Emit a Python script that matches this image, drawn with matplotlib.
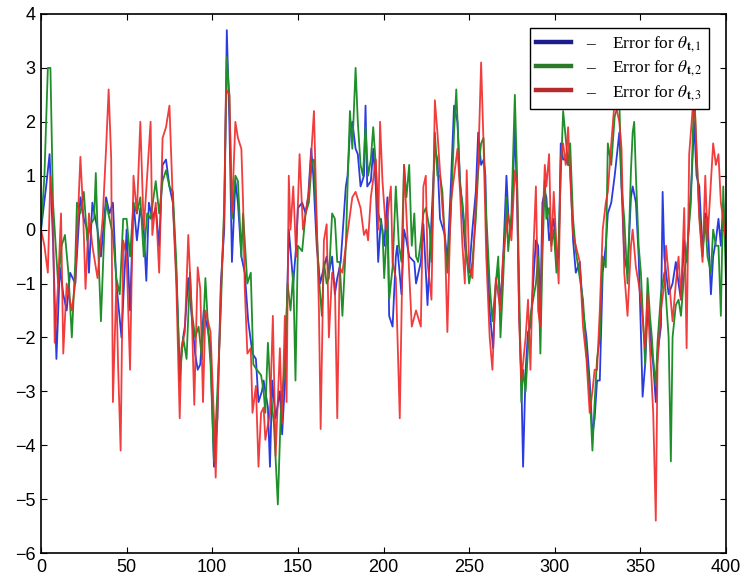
import matplotlib
matplotlib.use('Agg')
import matplotlib.pyplot as plt
from matplotlib.lines import Line2D

# Error traces (x = time step, y = error)
blue_x = [0, 3, 5, 7, 9, 11, 13, 15, 17, 20, 23, 25, 27, 28, 30, 33, 35, 38, 40, 42, 44, 47, 50,
          52, 54, 56, 58, 60, 61.5, 63, 65, 67, 69, 71, 73, 75, 77, 79, 81, 83, 84, 86, 88, 90,
          91.5, 93, 95, 97.7, 99, 101, 103, 105, 107, 108.5, 110, 111.5, 113.5, 115, 117, 119,
          121, 123.5, 125.5, 127, 129, 130, 132.5, 133.7, 135, 137, 139.5, 140.8, 142.5, 144.7,
          146, 147.3, 149, 150, 152.5, 154.5, 156, 157.8, 159, 161, 163, 165.2, 166.8, 168.1,
          170, 171.6, 173, 175, 178, 179, 180.4, 181.8, 183.7, 185, 186.6, 188.6, 189.5, 190.5,
          192.6, 194, 195.5, 196.9, 198.5, 200.4, 202.3, 203.3, 205.3, 207.2, 208, 210.5, 212,
          213.4, 215, 218, 219, 221.8, 223.3, 225.7, 227, 230, 231.5, 233, 235.8, 237.3, 239.3,
          241.2, 243.2, 244.7, 246.1, 247.5, 250, 251.9, 253.9, 255.3, 257, 258.5, 259.5, 260,
          262, 264, 265.6, 267, 268.3, 269.8, 271.8, 273, 274.7, 276.7, 278, 279.2, 280.5, 281.5,
          283, 284.4, 285.8, 287.4, 289, 290.3, 291.6, 292.8, 294.2, 295.1, 296.7, 298, 299.4,
          301, 302.3, 303.5, 304.9, 306.4, 307.8, 309, 310.7, 312.3, 314.6, 316.5, 318.5, 320.4,
          322, 323.3, 324.7, 326.3, 328, 329.8, 331, 333, 335, 337.7, 339, 340.6, 342.5, 344.5,
          345.5, 347.4, 349, 350.3, 351.3, 352.8, 354.2, 355.6, 356.7, 357.5, 359, 360, 362, 363,
          364, 365, 366.5, 368.8, 370.7, 372.3, 373.7, 375.6, 377, 378.5, 380, 381.4, 382.8,
          384.4, 386.3, 387.9, 389.2, 391.2, 392.5, 394.1, 395.6, 397, 398.4, 400]
blue_y = [0, 0.8, 1.4, -0.2, -2.4, -0.7, -1.2, -1.5, -0.8, -1.0, 0.6, 0.2, 0.0, -0.8, 0.5, 0.0, -0.5,
          0.6, 0.3, 0.5, -1.0, -2.0, 0.0,
          -1.5, 0.5, -0.2, 0.4, 0.0, -0.95, 0.5, 0.2, 0.4, -0.3, 1.2, 1.3, 0.8, 0.5, -0.8, -2.6,
          -2.0, -1.8, -0.9, -1.6, -2.3,
          -2.6, -2.5, -1.5, -1.9, -2.2, -4.4, -3.5, -1.0, 0.0, 3.7, 2.0, -0.6, 0.9, 0.5, -0.5, -0.8,
          -1.7, -2.3, -2.4, -3.2, -3.0, -2.8, -3.3, -4.4, -2.8, -3.5, -3.0, -3.8, -2.8, 0.0,
          -0.5, -1.0, -0.3, 0.4, 0.5, 0.3, 0.6, 1.5, 1.0, -0.3, -1.0, -0.7, -0.5, -0.8,
          -0.5, -1.2, -0.9, -0.6, 0.8, 1.0, 1.8, 2.0, 1.5, 1.4, 0.8, 1.0, 2.3, 0.8,
          0.9, 1.5, 0.8, -0.6, 0.2, -0.3, 0.6, -1.6, -1.8, -0.5, -0.3, -1.2, 0.0,
          -0.2, -0.5, -0.6, -1.0, -0.6, 0.1, -1.4, -0.5, 1.5, 1.3, 0.2, -0.1, -0.6, 0.8,
          2.3, 2.0, 0.9, 0.4, -0.3, -0.8, 0.0, 0.7, 1.8, 1.2, 1.3, 1.0, 0.0,
          -1.5, -2.2, -1.0, -0.7, -1.4, -0.6, 1.0, 0.2, 0.0, 1.9, 0.6, -1.5, -2.8, -4.4,
          -2.6, -1.9, -1.8, -1.0, -0.2, -0.3, -1.5, 0.5, 0.7, 0.6, -0.2, 0.0, 0.2,
          -0.6, -0.5, 1.6, 1.3, 1.3, 1.2, 1.2, -0.2, -0.8, -0.6, -1.5, -2.0, -2.8,
          -3.8, -3.5, -2.8, -2.8, -0.8, -0.3, 0.3, 0.5, 1.0, 1.8, 0.8, -0.5, -0.8, 0.6,
          0.8, 0.5, -0.5, -1.9, -3.1, -2.5, -1.5, -1.8, -2.3, -2.5, -3.2, -2.3, -1.8, 0.7,
          -0.5, -0.8, -1.2, -1.0, -0.6, -1.0, -1.3, -0.2, -0.6, 0.2, 1.0, 2.0, 1.0,
          0.8, -0.4, 0.3, 0.2, -1.2, -0.5, -0.2, 0.2, -0.3, 0.5, -0.4]

green_x = [0, 2, 4, 5.5, 7, 8, 10, 12, 14, 16, 18, 20, 21, 23, 25, 27, 29, 31, 32, 33, 35, 37, 38,
           40, 42, 44, 46, 48, 50, 52, 54, 56, 58, 60, 62, 64, 67, 69, 71, 73, 75, 77, 79, 81, 83,
           85, 87, 88, 90, 92, 94, 96, 97.7, 99, 101, 103, 105, 107, 108.5, 110, 111.5, 113.5, 115,
           117, 118, 120.5, 122.5, 124, 126, 128.5, 130, 131, 132.5, 134, 136, 138.3, 140, 142.4,
           144, 145.7, 147.3, 148.6, 150, 152.5, 154.5, 156.4, 158, 159.4, 161, 162.3, 164, 165.2,
           166.8, 168.1, 170, 171.6, 173, 174.4, 176, 178, 179, 180.4, 181.8, 183.7, 185, 186.6,
           188, 189.5, 191, 192.6, 194, 195.5, 197, 199.4, 200.4, 202.3, 203.3, 205.3, 207.2, 209,
           210.5, 212, 213.4, 215, 216.5, 218, 219, 220.2, 221.8, 223.3, 224.7, 227, 228, 230,
           231.5, 233, 234.4, 235.8, 237.3, 239.3, 241.2, 242.5, 244.7, 246.1, 247.5, 248.6, 250,
           251.9, 253.9, 255.3, 257, 258.4, 260, 262, 263.6, 265.6, 267, 268.3, 269.8, 271.8,
           272.8, 274.7, 276.7, 278, 279.2, 280.5, 281.5, 283, 284.4, 285.8, 287.4, 289, 290.3,
           291.6, 292.8, 294.2, 295.1, 296.7, 298, 299.4, 301, 302.3, 303.5, 304.9, 306.4, 307.8,
           309, 310.7, 312.3, 314.6, 316.5, 318.5, 320.4, 322, 323.3, 324.7, 326.3, 328, 329.8,
           331, 333, 335, 337.7, 339, 340.6, 342.5, 344.5, 345.5, 346.4, 347.4, 349, 350.3, 351.3,
           352.8, 354.2, 355.6, 356.7, 357.5, 359, 360, 362, 364, 366.5, 367.8, 368.8, 370.7,
           372.3, 373.7, 375.6, 377, 379.5, 381.4, 382.8, 384.4, 386.3, 387.9, 389.2, 391.2,
           392.5, 394.1, 395.6, 397, 398.4, 400]
green_y = [0, 1.0, 3.0, 3.0, 0.5, 0.0, -1.0, -0.3, -0.1, -0.8, -2.0, -0.6, 0.5, 0.3, 0.7, -0.2, 0.1,
           0.2, 1.05, 0.0, -1.7, 0.0, 0.5,
           0.2, -0.1, -0.9, -1.2, 0.2, 0.2, -0.5, 0.5, 0.3, 0.6, -0.5, 0.3, 0.2, 0.9, 0.3, 0.9,
           1.1, 0.8, 0.7, -0.6, -2.8, -2.0,
           -2.4, -0.8, -1.5, -2.0, -1.8, -2.4, -0.9, -1.9, -2.5, -4.3, -3.0, -1.5, 0.5, 3.2, 2.5,
           0.2, 1.0, 0.9,
           -0.5, 0.3, -1.0, -0.8, -2.5, -2.6, -2.7, -3.0, -3.4, -2.1, -3.0, -3.6, -5.1, -3.4, -2.5,
           -1.0, -1.5, -0.8, -2.8, -0.3, -0.4, 0.3, 0.5, 1.2, 1.3, 0.0, -0.9, -1.6, -0.6,
           -1.0, -0.9, 0.3, 0.2, -0.6, -0.6, -1.6, -0.3, 0.8, 2.2, 1.5, 3.0, 2.0, 1.2,
           1.0, 1.9, 1.0, 1.3, 1.9, 1.2, 0.3, 0.0, -0.9, 0.2, -1.3, -0.7, 0.8, -0.3,
           -0.6, 1.2, 0.6, 1.2, -0.3, 0.3, -0.5, -0.6, -0.2, 0.3, 0.4, 0.0, -0.6, 1.8,
           1.0, 1.0, 0.7, -0.2, -0.8, 0.3, 1.8, 2.6, 0.8, 0.5, 0.0, -0.5, -1.0,
           -0.6, 0.2, 1.1, 1.6, 1.7, 0.3, -1.0, -1.7, -1.0, -0.5, -2.0, -1.0, 0.6,
           -0.4, 0.3, 2.5, 1.0, -1.0, -3.2, -2.6, -3.0, -2.2, -1.6, -1.3, -1.0, -0.5,
           -2.3, -0.5, 0.9, 0.2, 0.4, -0.3, 0.0, -0.8, -0.2, 1.0, 2.2, 1.7, 1.2,
           1.6, 0.2, -0.4, -0.9, -1.3, -2.3, -3.0, -4.1, -3.2, -2.4, -2.0, -0.5, -0.7,
           1.6, 1.2, 2.1, 2.4, 0.8, 0.2, -1.0, 1.1, 1.8, 2.0, 1.0, -0.3, -0.8, -1.5,
           -2.5, -0.9, -1.6, -2.0, -2.4, -2.9, -2.1, -1.2, -0.8, -2.0, -4.3, -2.0, -1.4,
           -1.3, -1.6, -0.8, -0.5, 0.5, 2.6, 1.4, 0.3, -0.5, 0.2, -0.5, -0.8,
           0.0, -0.3, -0.3, -1.6, 0.8, -1.0]

red_x = [0, 2, 4, 5.5, 7, 8, 10, 11.7, 13, 15, 18, 20, 23, 24.5, 26, 28, 30, 33, 36, 38, 39.5, 41,
         42, 44, 45, 46.5, 48, 50, 52, 54, 56, 58, 60, 62, 64, 65, 67, 69, 71, 73, 75, 77, 79, 81,
         82, 84, 86, 88, 89.5, 91.5, 93, 94.6, 96, 99, 101, 102, 105, 107, 108, 110, 111.5, 113.5,
         115, 117, 118, 119, 120.5, 122.5, 123.5, 125.5, 127, 128.5, 130, 131, 133.7, 135.4, 137,
         139.5, 140.8, 142.4, 143.4, 144.7, 145.7, 147.3, 149, 151, 153, 154.5, 156.4, 158, 159.4,
         161, 162.3, 163.3, 165.2, 166.8, 168.1, 170, 171.6, 173, 174.4, 176, 178, 181.8, 183.7,
         186.6, 188.6, 190, 191, 192.6, 195.5, 196.9, 198, 199.4, 201.4, 204.3, 205.3, 207.2,
         209.5, 212, 215, 216.5, 219, 221.8, 223.3, 224.7, 225.7, 228, 230, 231.5, 234.4, 235.8,
         237.3, 239.3, 243.2, 244.7, 246.1, 247.5, 248.6, 250, 251.9, 253.9, 255.3, 257, 258.5,
         260, 262, 263.6, 265.6, 268.3, 269.8, 272.8, 274.7, 276.7, 278, 279.2, 280.5, 283,
         284.4, 285.8, 287.4, 289, 290.3, 291.6, 292.8, 294.2, 295.1, 296.7, 298, 299.4, 301,
         302.3, 303.5, 304.9, 306.4, 307.8, 309, 310.7, 312.3, 314.6, 316.5, 318.5, 320.4, 322,
         323.3, 324.7, 326.3, 328, 329.8, 331, 333, 335, 337.7, 339, 340.6, 342.5, 344.5, 345.5,
         347.4, 349, 350.3, 352.8, 354.2, 355.6, 357.5, 359, 360, 362, 364, 365, 368.8, 370.7,
         372.3, 373.7, 375.6, 377, 378.5, 381.4, 382.8, 384.4, 386.3, 387.9, 389.2, 392.5, 394.1,
         395.6, 397, 400]
red_y = [0, -0.3, -0.8, 1.0, 0.3, -2.1, -1.0, 0.3, -2.3, -1.0, -1.5, -1.0, 1.35, 0.4, -1.1, 0.3,
         -0.3, -0.9, 0.2, 1.5, 2.6, 1.3,
         -3.2, -1.0, -2.5, -4.1, -0.2, -0.5, -2.6, 1.0, 0.3, 2.0, 0.0, 1.0, 2.0, -0.1, 0.5, -0.8,
         1.7, 1.9, 2.3, 0.5, -1.0, -3.5,
         -2.2, -1.9, -0.1, -1.5, -3.25, -0.7, -1.1, -3.2, -1.5, -1.9, -3.5, -4.6, -1.2, 0.3, 2.6,
         2.5, 0.3, 2.0,
         1.7, 1.5, 0.5, -1.1, -2.3, -2.2, -3.4, -2.9, -4.4, -3.4, -3.3, -3.9, -3.4, -1.6, -4.2,
         -2.2, -3.6, -1.6, -3.2, 1.0, 0.0, 0.8, -0.5, 1.4, 0.0, 0.3, 0.7, 1.5, 2.2,
         0.2, -1.5, -3.7, -0.2, 0.1, -2.0, -0.8, -1.0, -3.5, -0.7, -0.8, -0.3, 0.6, 0.7,
         0.4, -0.1, 0.0, -0.2, 0.6, 1.3, 0.0, 2.0, 0.9, 0.0, 0.8, -0.6, -0.9,
         -3.5, 1.2, -0.8, -1.8, -1.5, -1.8, 0.8, 1.0, -0.6, -1.3, 2.4, 1.8, 0.4, -0.1,
         -1.9, 0.5, 1.5, 0.7, -0.3, -1.0, 1.1, -0.7, -0.9, 0.5, 1.2, 3.1, 1.5,
         -0.5, -2.0, -2.6, -0.9, -1.5, -0.5, 0.3, -0.2, 1.1, 0.8, -1.7, -2.8, -2.0,
         -1.3, -2.6, -0.5, 0.8, -1.5, -1.8, 0.0, 1.2, 0.8, 1.4, -0.4, 0.7, -0.3,
         -1.0, 1.3, 1.6, 1.2, 1.9, 1.0, -0.1, -0.3, -0.6, -1.8, -2.4, -3.4, -3.0,
         -2.6, -2.6, -1.5, 0.0, 0.5, 0.7, 1.6, 2.4, 2.0, 1.5, -0.8, -1.6, -0.3, 0.0,
         -0.7, -1.0, -1.3, -2.2, -1.2, -2.2, -3.4, -5.4, -2.5, -1.5, -1.0, -0.3, -1.7, -1.0,
         -0.5, -1.3, 0.4, -2.2, 1.4, 2.6, 1.5, 0.2, -0.6, 1.0, -0.2, 1.6, 1.2,
         1.4, 0.5, -0.2]

legend_labels = [r'Error for $\theta_{\mathbf{t},1}$',
                 r'Error for $\theta_{\mathbf{t},2}$',
                 r'Error for $\theta_{\mathbf{t},3}$']

plt.rcParams['mathtext.fontset'] = 'stix'
plt.rcParams['font.family'] = ['Liberation Sans', 'DejaVu Sans']

fig = plt.figure(figsize=(7.46, 5.86), dpi=100)
ax = fig.add_axes([41 / 746, 1 - 553 / 586, 685 / 746, 539 / 586])

line_colors = ['#2a3ce0', '#1f8f2a', '#f02828']
hand_colors = ['#1c1c8c', '#2a7a2a', '#b52a2a']

ax.plot(blue_x, blue_y, color=line_colors[0], lw=1.3)
ax.plot(green_x, green_y, color=line_colors[1], lw=1.3)
ax.plot(red_x, red_y, color=line_colors[2], lw=1.3, alpha=0.9)

ax.set_xlim(0, 400)
ax.set_ylim(-6, 4)
ax.set_xticks(range(0, 401, 50))
ax.set_yticks(range(-6, 5))
ax.tick_params(direction='in', top=True, right=True, length=4, width=0.8,
               labelsize=13, colors='black', pad=4)
for sp in ax.spines.values():
    sp.set_linewidth(1.2)
    sp.set_color('black')

handles = [Line2D([0], [0], color=c, lw=3.2) for c in hand_colors]
labels = ['\u2013    ' + lab for lab in legend_labels]
leg = ax.legend(handles, labels, loc='upper right', bbox_to_anchor=(0.988, 0.99),
                fancybox=False, framealpha=1, edgecolor='black', handlelength=2.0,
                handletextpad=0.9, borderpad=0.35, labelspacing=0.25,
                prop={'family': 'Liberation Serif', 'size': 12.5})
leg.get_frame().set_linewidth(1.0)

plt.savefig('out.png', dpi=100)
plt.close()
